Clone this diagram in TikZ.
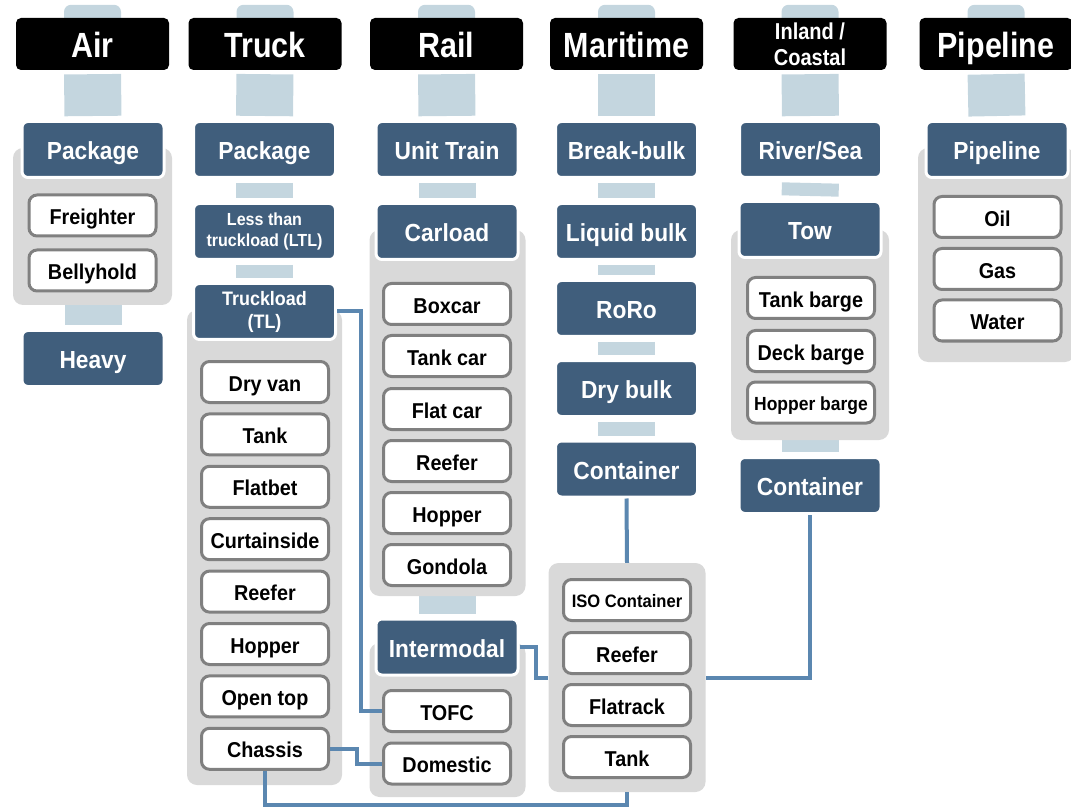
\documentclass[tikz,border=0pt]{standalone}
\usepackage{fontspec}
\setmainfont{Liberation Sans}[FakeStretch=0.92]
\newfontfamily\hdrfont{Liberation Sans}[FakeStretch=0.87]
\usetikzlibrary{calc,backgrounds}
\definecolor{darkb}{RGB}{64,94,124}
\definecolor{stemc}{RGB}{196,214,223}
\definecolor{grp}{RGB}{217,217,217}
\definecolor{itemb}{RGB}{128,128,128}
\definecolor{connc}{RGB}{91,135,176}
\tikzset{
 oneline/.style={text height=#1, text depth=0pt},
 hdrbase/.style={fill=black, text=white, rounded corners=5pt, minimum width=153pt, minimum height=52pt, inner sep=0pt, font=\hdrfont\bfseries\fontsize{35}{38}\selectfont, align=center},
 hdr/.style={hdrbase, oneline=27.5pt},
 dkbase/.style={fill=darkb, draw=white, line width=3pt, text=white, rounded corners=6pt, minimum width=142pt, minimum height=56pt, inner sep=0pt, font=\bfseries\fontsize{24.7}{27}\selectfont, align=center},
 dark/.style={dkbase, oneline=20.5pt},
 item/.style={fill=white, draw=itemb, line width=3pt, rounded corners=8pt, minimum width=127pt, minimum height=41pt, inner sep=0pt, font=\bfseries\fontsize{21.5}{23}\selectfont, text=black, oneline=18.2pt},
 group/.style={fill=grp, rounded corners=10pt, inner sep=0pt},
 stem/.style={draw=stemc, line width=57pt, shorten <=4pt, shorten >=4pt},
 stub/.style={fill=stemc, rounded corners=7pt},
 conn/.style={draw=connc, line width=4pt},
}
\begin{document}
\begin{tikzpicture}[x=1pt,y=-1pt]
\useasboundingbox (0,0) rectangle (1071,810);
% groups
\node[group, minimum width=159pt, minimum height=157pt] (airgrp) at (92.5,226.5) {};
\node[group, minimum width=155pt, minimum height=475pt] (trkgrp) at (264.5,547.5) {};
\node[group, minimum width=156pt, minimum height=366pt] (railgrpa) at (447.5,413) {};
\node[group, minimum width=156pt, minimum height=154pt] (railgrpb) at (447.5,720) {};
\node[group, minimum width=157pt, minimum height=229pt] (margrp) at (627,677.5) {};
\node[group, minimum width=158pt, minimum height=210pt] (inlgrp) at (810,335) {};
\node[group, minimum width=157pt, minimum height=214pt] (pipgrp) at (996.5,255) {};
% headers
\node[hdr] (air) at (92.5,44) {Air};
\node[hdr] (truck) at (265,44) {Truck};
\node[hdr] (rail) at (446.5,44) {Rail};
\node[hdr] (mar) at (626.5,44) {Maritime};
\node[hdrbase, font=\hdrfont\bfseries\fontsize{23}{26}\selectfont] (inl) at (810,44) {Inland /\\Coastal};
\node[hdr] (pip) at (996,44) {Pipeline};
% dark boxes
\node[dark] (airpkg) at (93,149.5) {Package};
\node[dark] (airheavy) at (93,358.5) {Heavy};
\node[dark] (trkpkg) at (264.5,149.5) {Package};
\node[dkbase, font=\bfseries\fontsize{17.5}{21}\selectfont] (ltl) at (264.5,231.5) {Less than\\truckload (LTL)};
\node[dkbase, font=\bfseries\fontsize{19.5}{23}\selectfont] (tl) at (264.5,311.5) {Truckload\\(TL)};
\node[dark] (unit) at (447,149.5) {Unit Train};
\node[dark] (carload) at (447,231.5) {Carload};
\node[dark] (intermodal) at (447,647) {Intermodal};
\node[dark] (brk) at (626.5,149.5) {Break-bulk};
\node[dark] (liq) at (626.5,231.5) {Liquid bulk};
\node[dark] (roro) at (626.5,308.5) {RoRo};
\node[dark] (dry) at (626.5,388.5) {Dry bulk};
\node[dark] (marcont) at (626.5,469) {Container};
\node[dark] (river) at (810.5,149.5) {River/Sea};
\node[dark] (tow) at (810,229.5) {Tow};
\node[dark] (inlcont) at (810,485.5) {Container};
\node[dark] (pipe) at (997,149.5) {Pipeline};
% items
\node[item] (freighter) at (92.5,215.5) {Freighter};
\node[item] (bellyhold) at (92.5,270.5) {Bellyhold};
\node[item] (dryvan) at (265,382) {Dry van};
\node[item] (ttank) at (265,434.4) {Tank};
\node[item] (flatbet) at (265,486.8) {Flatbet};
\node[item] (curtain) at (265,539.2) {Curtainside};
\node[item] (treefer) at (265,591.6) {Reefer};
\node[item] (thopper) at (265,644) {Hopper};
\node[item] (opentop) at (265,696.4) {Open top};
\node[item] (chassis) at (265,748.8) {Chassis};
\node[item] (boxcar) at (447,304) {Boxcar};
\node[item] (tankcar) at (447,356) {Tank car};
\node[item] (flatcar) at (447,409) {Flat car};
\node[item] (rreefer) at (447,461) {Reefer};
\node[item] (rhopper) at (447,513) {Hopper};
\node[item] (gondola) at (447,565) {Gondola};
\node[item] (tofc) at (447,711) {TOFC};
\node[item] (domestic) at (447,763.5) {Domestic};
\node[item, font=\bfseries\fontsize{18}{20}\selectfont, oneline=15.9pt] (iso) at (627,600) {ISO Container};
\node[item] (mreefer) at (627,653) {Reefer};
\node[item] (flatrack) at (627,705) {Flatrack};
\node[item] (mtank) at (627,757) {Tank};
\node[item] (tankbarge) at (811,298) {Tank barge};
\node[item] (deckbarge) at (811,351) {Deck barge};
\node[item, font=\bfseries\fontsize{19}{21}\selectfont, oneline=16.6pt] (hopperbarge) at (811,402.5) {Hopper barge};
\node[item] (oil) at (997.5,217) {Oil};
\node[item] (gas) at (997.5,269) {Gas};
\node[item] (water) at (997.5,320.5) {Water};
% stems
\begin{scope}[on background layer]
\foreach \h in {air,truck,rail,mar,inl,pip}{
  \fill[stub] ($(\h.north)+(-28.5,-13)$) rectangle ($(\h.north)+(28.5,10)$);
}
\draw[stem] (air.south) -- (airpkg.north);
\draw[stem] (truck.south) -- (trkpkg.north);
\draw[stem] (rail.south) -- (unit.north);
\draw[stem] (mar.south) -- (brk.north);
\draw[stem] (inl.south) -- (river.north);
\draw[stem] (pip.south) -- (pipe.north);
\draw[stem] (airpkg.south) -- (airheavy.north);
\draw[stem] (trkpkg.south) -- (ltl.north);
\draw[stem] (ltl.south) -- (tl.north);
\draw[stem] (unit.south) -- (carload.north);
\draw[stem] (carload.south) -- (intermodal.north);
\draw[stem] (brk.south) -- (liq.north);
\draw[stem] (liq.south) -- (roro.north);
\draw[stem] (roro.south) -- (dry.north);
\draw[stem] (dry.south) -- (marcont.north);
\draw[stem] (river.south) -- (tow.north);
\draw[stem] (tow.south) -- (inlcont.north);
\end{scope}
% connectors
\draw[conn] (tl.east) -- ++(24,0) |- (tofc.west);
\draw[conn] (chassis.east) -- ++(27,0) |- (domestic.west);
\draw[conn] (intermodal.east) -- ++(16,0) |- (margrp.west);
\draw[conn] (chassis.south) -- ++(0,34) -| (margrp.south);
\draw[conn] (marcont.south) -- (margrp.north);
\draw[conn] (inlcont.south) |- (margrp.east);
\end{tikzpicture}
\end{document}
